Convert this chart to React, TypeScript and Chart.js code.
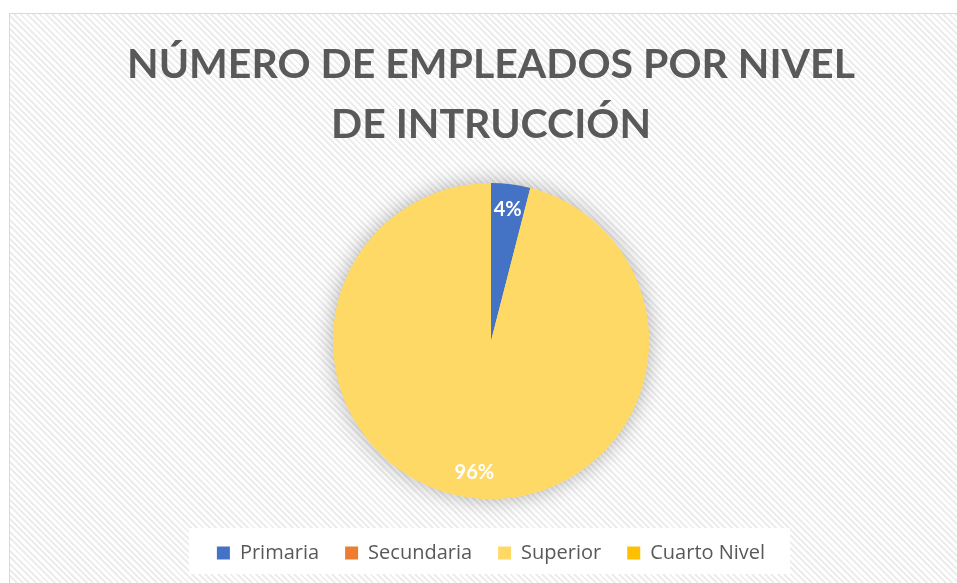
import React, { useEffect, useRef } from "react";
import { Chart, registerables } from "chart.js";

Chart.register(...registerables);

const categories = ["Primaria", "Secundaria", "Superior", "Cuarto Nivel"];
const employees = [1, 0, 24, 0];
const colors = ["#4472C4", "#ED7D31", "#FFD966", "#FFC000"];
const titleLines = ["NÚMERO DE EMPLEADOS POR NIVEL", "DE INTRUCCIÓN"];

const TITLE_FONT = "Lato, 'Open Sans', sans-serif";
const LEGEND_FONT = "'Open Sans', Lato, sans-serif";

const shadowPlugin = {
  id: "pieShadow",
  beforeDatasetsDraw(chart: any) {
    const meta = chart.getDatasetMeta(0);
    const arc = meta.data[0];
    if (!arc) return;
    const { x, y, outerRadius } = arc.getProps(["x", "y", "outerRadius"], true);
    const ctx = chart.ctx;
    ctx.save();
    ctx.shadowColor = "rgba(0,0,0,0.3)";
    ctx.shadowBlur = 22;
    ctx.beginPath();
    ctx.arc(x, y, outerRadius, 0, Math.PI * 2);
    ctx.fillStyle = colors[2];
    ctx.fill();
    ctx.restore();
  },
};

const labelPlugin = {
  id: "pieLabels",
  afterDatasetsDraw(chart: any) {
    const ctx = chart.ctx;
    const data = chart.data.datasets[0].data as number[];
    const total = data.reduce((a, b) => a + b, 0);
    const meta = chart.getDatasetMeta(0);
    ctx.save();
    ctx.fillStyle = "#FFFFFF";
    ctx.font = `bold 20px ${TITLE_FONT}`;
    ctx.textAlign = "center";
    ctx.textBaseline = "middle";
    meta.data.forEach((arc: any, i: number) => {
      if (!data[i]) return;
      const p = arc.getProps(["x", "y", "startAngle", "endAngle", "outerRadius"], true);
      const mid = (p.startAngle + p.endAngle) / 2;
      const d = p.outerRadius * 0.84;
      const txt = Math.round((data[i] / total) * 100) + "%";
      ctx.fillText(txt, p.x + Math.cos(mid) * d, p.y + Math.sin(mid) * d);
    });
    ctx.restore();
  },
};

const legendBgPlugin = {
  id: "legendBg",
  beforeDraw(chart: any) {
    const lg = chart.legend;
    if (!lg) return;
    const cx = (lg.left + lg.right) / 2;
    const ctx = chart.ctx;
    ctx.save();
    ctx.fillStyle = "#FFFFFF";
    ctx.fillRect(cx - 302, lg.top + 11, 601, 46);
    ctx.restore();
  },
};

export default function App() {
  const ref = useRef<HTMLCanvasElement>(null);
  useEffect(() => {
    if (!ref.current) return;
    const chart = new Chart(ref.current, {
      type: "pie",
      data: {
        labels: categories,
        datasets: [
          {
            data: employees,
            backgroundColor: colors,
            borderWidth: 0,
          },
        ],
      },
      options: {
        animation: false,
        responsive: false,
        radius: 158,
        layout: { padding: { bottom: 10 } },
        plugins: {
          title: {
            display: true,
            text: titleLines,
            color: "#595959",
            font: { family: TITLE_FONT, size: 41, weight: "bold", lineHeight: 60 / 41 },
            padding: { top: 20.5, bottom: 10.5 },
          },
          legend: {
            display: true,
            position: "bottom",
            labels: {
              color: "#595959",
              font: { family: LEGEND_FONT, size: 20 },
              boxWidth: 13,
              boxHeight: 13,
              padding: 26,
            },
          },
          tooltip: { enabled: false },
        },
      } as any,
      plugins: [shadowPlugin, labelPlugin, legendBgPlugin],
    });
    return () => chart.destroy();
  }, []);

  return (
    <div
      style={{
        position: "fixed",
        left: 9,
        top: 13,
        width: 962,
        height: 580,
        border: "1px solid #D9D9D9",
        background:
          "repeating-linear-gradient(45deg, #FFFFFF 0px, #FFFFFF 2.5px, #EDEDED 2.5px, #EDEDED 4.5px)",
      }}
    >
      <canvas ref={ref} width={962} height={569} style={{ display: "block" }} />
    </div>
  );
}
